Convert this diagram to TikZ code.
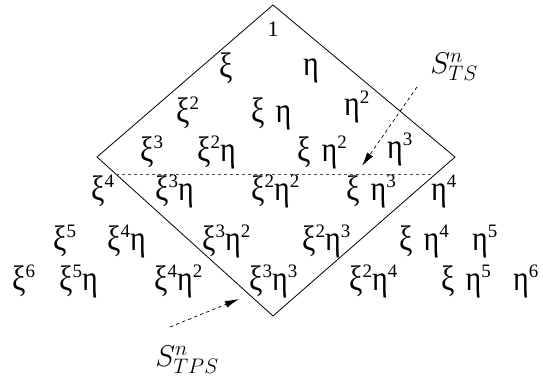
\RequirePackage{fix-cm}
\documentclass[tikz,border=0pt]{standalone}
\usepackage{graphicx}
\usepackage{fontspec}
\setmainfont{Liberation Serif}
\usetikzlibrary{arrows.meta,calc}
\newcommand\pw[1]{\raisebox{13pt}{\fontsize{19}{19}\selectfont #1}}
\newcommand\gx{\scalebox{1}[1.18]{ξ}}
\newcommand\gh{\scalebox{1}[1.18]{η}}
\newcommand\gap{\kern11pt}
\begin{document}
\begin{tikzpicture}[x=1pt,y=-1pt,
  mono/.style={inner sep=0pt,anchor=base west,font=\fontsize{30}{32}\selectfont},
  edge/.style={draw=black,line width=0.8pt},
  cut/.style={draw=black!70,dashed,dash pattern=on 3.5pt off 2.5pt,line width=0.7pt},
  pointer/.style={draw=black,dashed,dash pattern=on 3.5pt off 3pt,line width=0.7pt,-{Latex[length=14pt,width=7pt]}},
  lab/.style={inner sep=0pt,font=\fontsize{30}{34}\selectfont}]
\useasboundingbox (0,0) rectangle (543,385);
% diamond
\coordinate (T) at (273,5);
\coordinate (L) at (97,157);
\coordinate (R) at (455,157);
\coordinate (B) at (273,316);
\draw[edge] (T) -- (R) -- (B) -- (L) -- cycle;
\coordinate (cl) at ($(L)!0.107!(B)$);
\coordinate (cr) at ($(R)!0.107!(B)$);
\draw[cut] (cl) -- (cr);
% monomials
\node[inner sep=0pt,anchor=base,font=\fontsize{22}{24}\selectfont] (m00) at (273,37) {1};
\node[mono] (m10) at (219,78) {\gx};
\node[mono] (m11) at (303,76) {\gh};
\node[mono] (m20) at (176,122) {\gx\pw{2}};
\node[mono] (m21) at (251,122) {\gx\gap\gh};
\node[mono] (m22) at (344,116) {\gh\pw{2}};
\node[mono] (m30) at (140,161) {\gx\pw{3}};
\node[mono] (m31) at (197,161) {\gx\pw{2}\gh};
\node[mono] (m32) at (297,161) {\gx\gap\gh\pw{2}};
\node[mono] (m33) at (387,158) {\gh\pw{3}};
\node[mono] (m40) at (91,200) {\gx\pw{4}};
\node[mono] (m41) at (155,200) {\gx\pw{3}\gh};
\node[mono] (m42) at (251,200) {\gx\pw{2}\gh\pw{2}};
\node[mono] (m43) at (346,200) {\gx\gap\gh\pw{3}};
\node[mono] (m44) at (431,200) {\gh\pw{4}};
\node[mono] (m50) at (53,250) {\gx\pw{5}};
\node[mono] (m51) at (107,250) {\gx\pw{4}\gh};
\node[mono] (m52) at (202,250) {\gx\pw{3}\gh\pw{2}};
\node[mono] (m53) at (302,250) {\gx\pw{2}\gh\pw{3}};
\node[mono] (m54) at (399,250) {\gx\gap\gh\pw{4}};
\node[mono] (m55) at (472,250) {\gh\pw{5}};
\node[mono] (m60) at (12,290) {\gx\pw{6}};
\node[mono] (m61) at (59,290) {\gx\pw{5}\gh};
\node[mono] (m62) at (154,290) {\gx\pw{4}\gh\pw{2}};
\node[mono] (m63) at (249,290) {\gx\pw{3}\gh\pw{3}};
\node[mono] (m64) at (349,290) {\gx\pw{2}\gh\pw{4}};
\node[mono] (m65) at (441,290) {\gx\gap\gh\pw{5}};
\node[mono] (m66) at (513,290) {\gh\pw{6}};
% labels and pointers
\node[lab] (sts) at (454,67) {$S^n_{TS}$};
\node[lab] (stps) at (187,360) {$S^n_{TPS}$};
\coordinate (a1s) at (417,87);
\coordinate (a1e) at (362,166);
\coordinate (a2s) at (170,327);
\coordinate (a2e) at (239,299);
\draw[pointer] (a1s) -- (a1e);
\draw[pointer] (a2s) -- (a2e);
\end{tikzpicture}
\end{document}
